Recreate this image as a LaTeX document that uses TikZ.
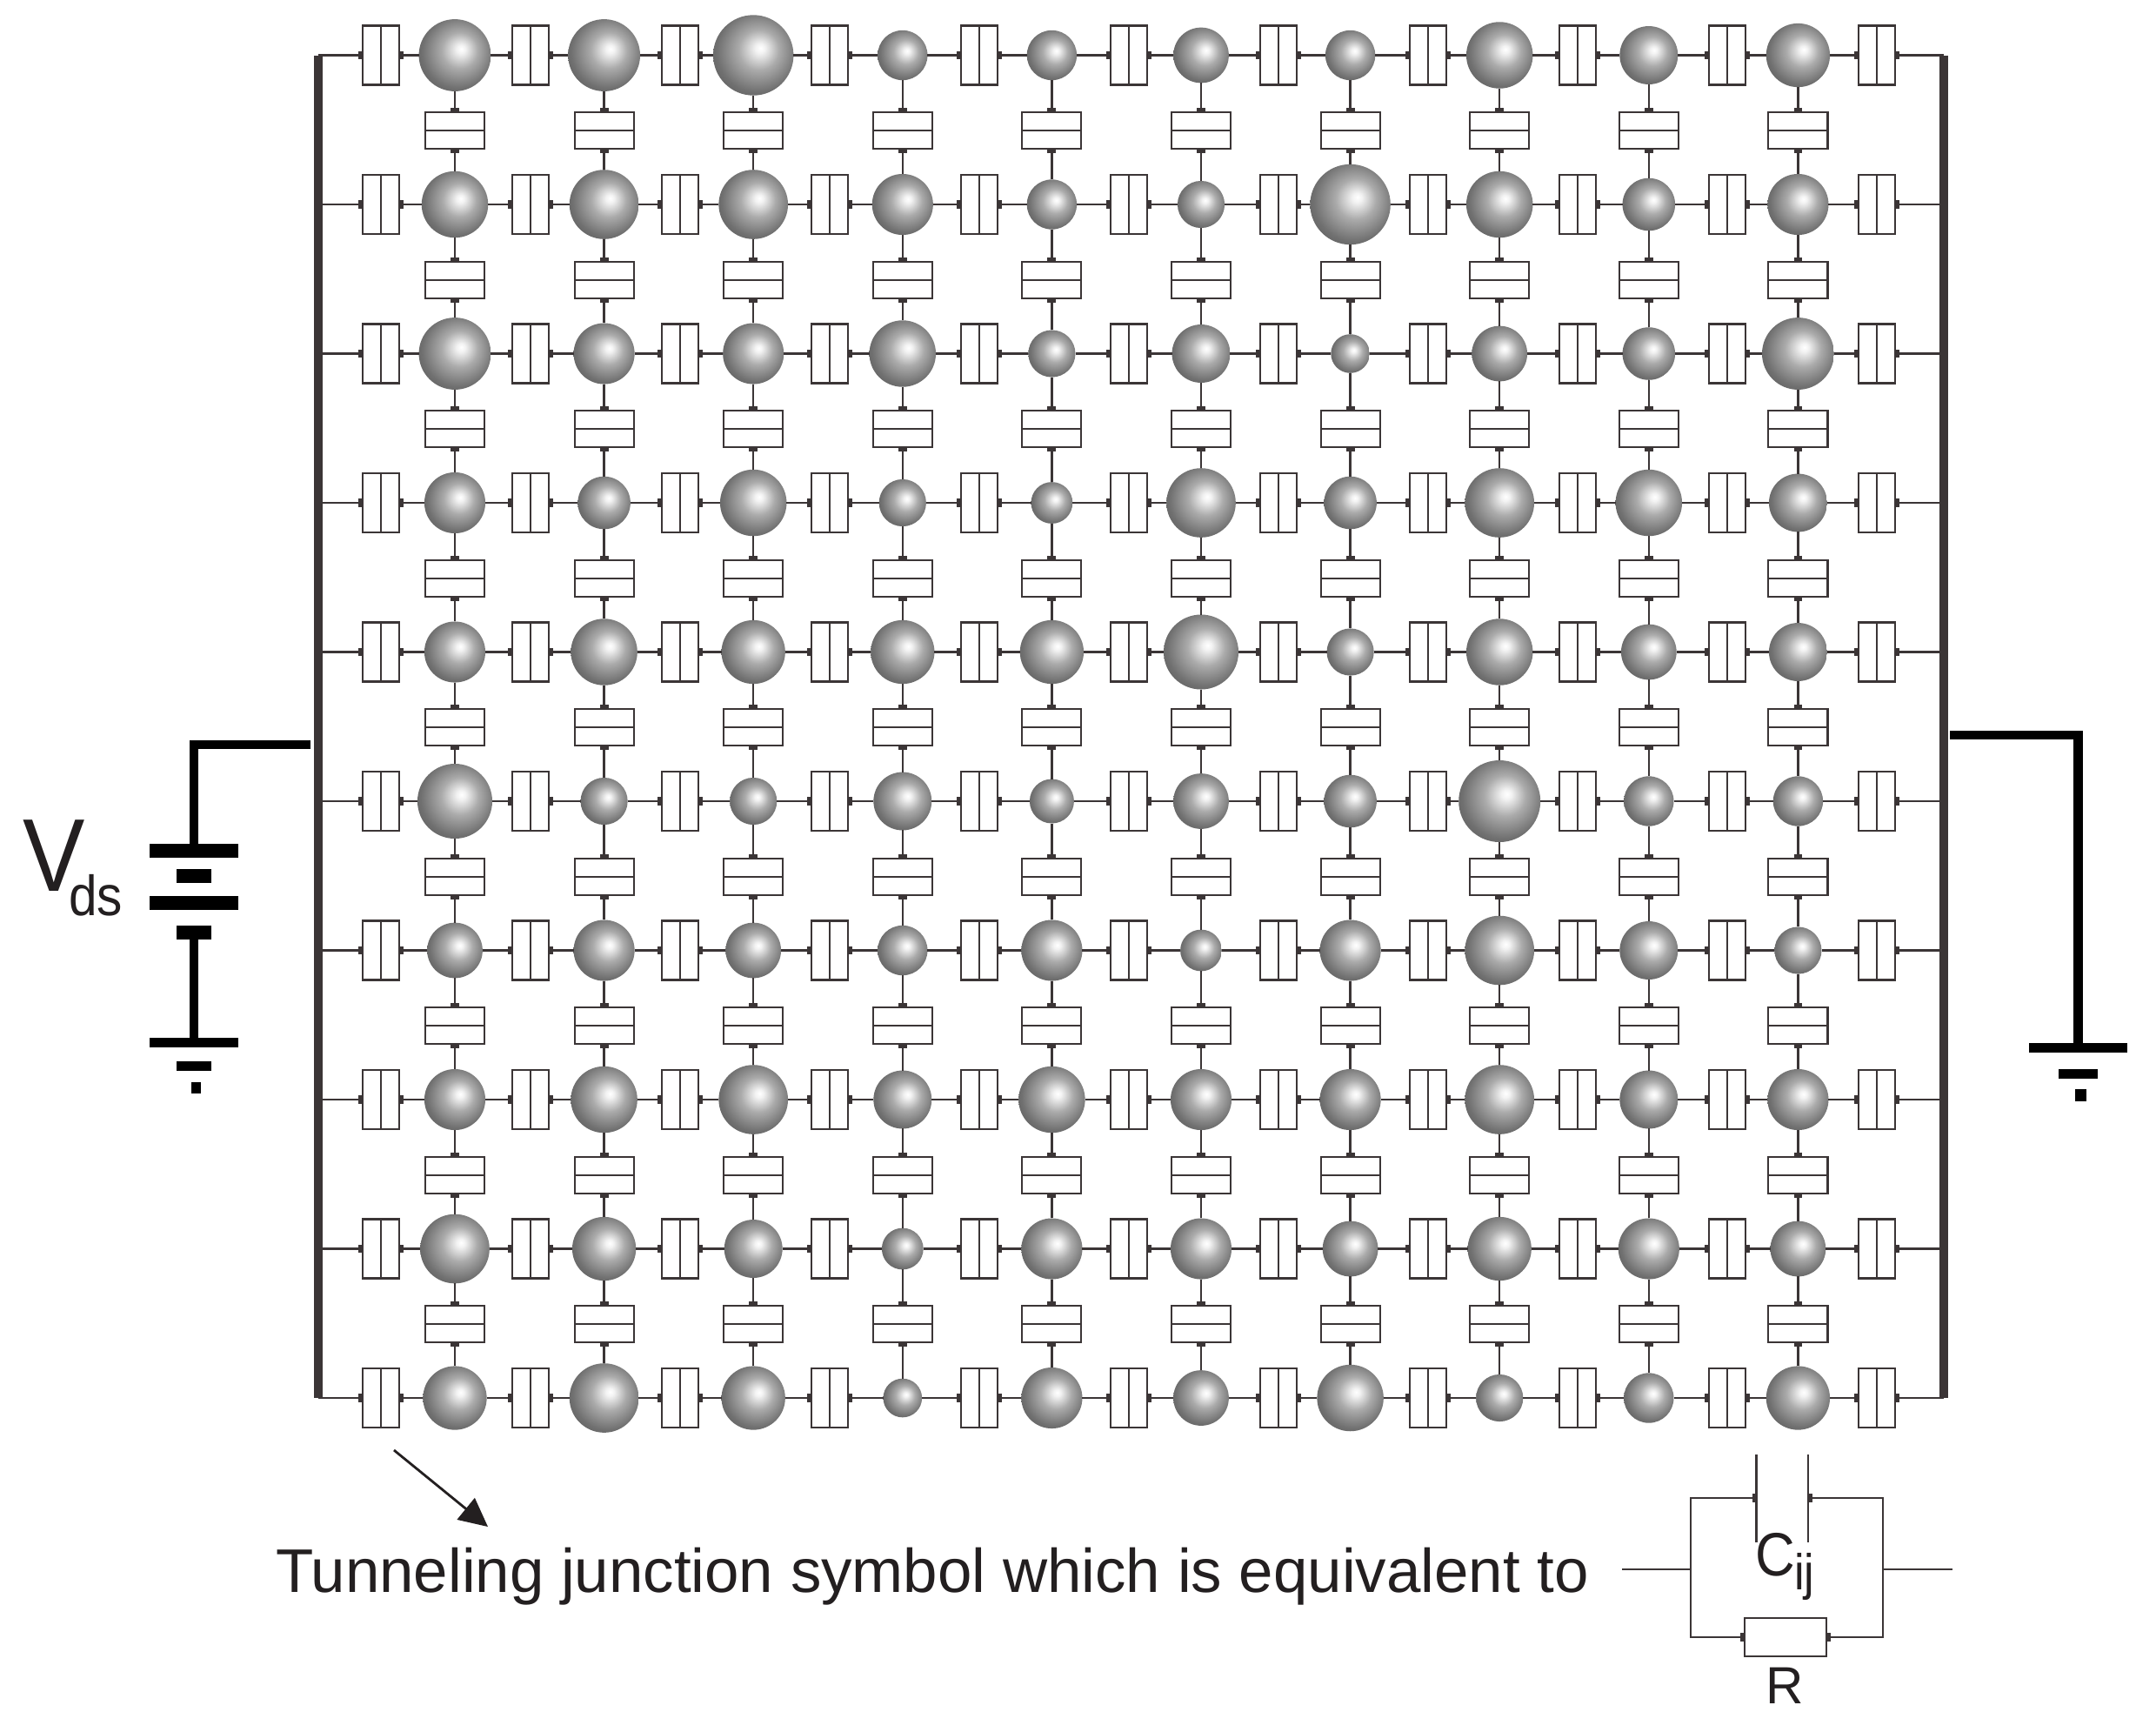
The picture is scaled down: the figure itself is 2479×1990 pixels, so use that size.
\documentclass[tikz,border=0pt]{standalone}
\usepackage{fontspec}
\setmainfont{Liberation Sans}
\newfontfamily\narrowfont[FakeStretch=0.9]{Liberation Sans}
\usetikzlibrary{arrows.meta}
\definecolor{ink}{HTML}{231F20}
\definecolor{wirecol}{HTML}{3B3536}
\pgfdeclareradialshading{ballshade}{\pgfpoint{4.5bp}{4.5bp}}{
  color(0bp)=(white);
  color(3bp)=(white!95!black);
  color(12.5bp)=(black!33);
  color(25bp)=(black!56);
  color(32bp)=(black!63);
  color(50bp)=(black!63)
}
\tikzset{
  wire/.style={draw=wirecol, line width=0.7pt},
  tipend/.style={-{Rectangle[length=1.4pt,width=2.8pt]}},
  tipstart/.style={{Rectangle[length=1.4pt,width=2.8pt]}-},
  bus/.style={draw=wirecol, line width=2.85pt},
  lead/.style={draw=black, line width=3pt},
  jbox/.style={draw=wirecol, line width=0.6pt, fill=white, inner sep=0pt, outer sep=0pt, rectangle},
  ball/.style={circle, inner sep=0pt, outer sep=0pt, shading=ballshade},
  plate/.style={fill=black, inner sep=0pt, outer sep=0pt, rectangle},
  txt/.style={text=ink, inner sep=0pt, anchor=base west}
}
\begin{document}
\begin{tikzpicture}[x=0.01cm, y=-0.01cm]
    \useasboundingbox (0,0) rectangle (2479,1990);

    % spheres, one list of sizes per row
    \foreach \sizes [count=\i] in {
      {26,26,29,18,18,20,18,24,21,23},
      {24,25,25,22,18,17,29,24,19,22},
      {26,22,22,24,17,21,14,20,19,26},
      {22,19,24,17,15,25,19,25,24,21},
      {22,24,23,23,23,27,17,24,20,21},
      {27,17,17,21,16,20,19,29.5,18,18},
      {20,22,20,18,22,15,22,25,21,17},
      {22,24,25,21,24,22,22,25,21,22},
      {25,23,21,15,22,22,20,23,22,20},
      {23,25,23,14,22,20,24,17,18,23}} {
      \foreach \d [count=\j] in \sizes {
        \node[ball, minimum size={\d*0.03184cm}] (s\i-\j) at ({523+171.6*(\j-1)},{63.5+171.5*(\i-1)}) {};
      }
    }

    % junctions along the rows
    \foreach \i in {1,...,10} {
      \coordinate (l\i) at (366,{63.5+171.5*(\i-1)});
      \coordinate (e\i) at (2235,{63.5+171.5*(\i-1)});
      \foreach \j in {1,...,11} {
        \node[jbox, minimum width=0.42cm, minimum height=0.68cm] (h\i-\j) at ({438+172*(\j-1)},{63.5+171.5*(\i-1)}) {};
        \draw[wire] (h\i-\j.north) -- (h\i-\j.south);
      }
      \draw[wire, tipend] (l\i) -- (h\i-1.west);
      \draw[wire, tipstart] (h\i-11.east) -- (e\i);
      \foreach \j in {1,...,10} {
        \pgfmathtruncatemacro{\n}{\j+1}
        \draw[wire, tipstart] (h\i-\j.east) -- (s\i-\j.west);
        \draw[wire, tipend] (s\i-\j.east) -- (h\i-\n.west);
      }
    }

    % junctions between the rows
    \foreach \i in {1,...,9} {
      \pgfmathtruncatemacro{\n}{\i+1}
      \foreach \j in {1,...,10} {
        \node[jbox, minimum width=0.68cm, minimum height=0.42cm] (t\i-\j) at ({523+171.6*(\j-1)},{round(150+171.5*(\i-1))}) {};
        \draw[wire] (t\i-\j.west) -- (t\i-\j.east);
        \draw[wire, tipend] (s\i-\j.south) -- (t\i-\j.north);
        \draw[wire, tipstart] (t\i-\j.south) -- (s\n-\j.north);
      }
    }

    \draw[bus] (l1) -- (l10);
    \draw[bus] (e1) -- (e10);

    % source on the left
    \node[plate, minimum width=1.02cm, minimum height=0.155cm] (batA) at (223,978) {};
    \node[plate, minimum width=0.40cm, minimum height=0.155cm] (batB) at (223,1007) {};
    \node[plate, minimum width=1.02cm, minimum height=0.155cm] (batC) at (223,1038) {};
    \node[plate, minimum width=0.40cm, minimum height=0.155cm] (batD) at (223,1072) {};
    \node[plate, minimum width=1.02cm, minimum height=0.11cm] (gndA) at (223,1198.5) {};
    \node[plate, minimum width=0.40cm, minimum height=0.11cm] (gndB) at (223,1225.5) {};
    \node[plate, minimum width=0.11cm, minimum height=0.13cm] (gndC) at (225.5,1250) {};
    \coordinate (vin) at (357,856);
    \draw[lead] (vin) -| (batA.north);
    \draw[lead] (batD.south) -- (gndA.north);
    \node[txt] (vds) at (26,1024) {\narrowfont\fontsize{33.8pt}{34pt}\selectfont V\kern-5.4pt\raisebox{-8pt}{\fontsize{18.5pt}{19pt}\selectfont ds}};

    % ground on the right
    \node[plate, minimum width=1.136cm, minimum height=0.104cm] (gndD) at (2389.5,1204.5) {};
    \node[plate, minimum width=0.447cm, minimum height=0.104cm] (gndE) at (2389.5,1234.5) {};
    \node[plate, minimum width=0.13cm, minimum height=0.14cm] (gndF) at (2392,1259) {};
    \coordinate (vout) at (2242,845);
    \draw[lead] (vout) -| (gndD.north);

    % note at the bottom
    \coordinate (from) at (453,1667);
    \coordinate (into) at (561,1755);
    \draw[draw=ink, line width=0.8pt, -{Triangle[length=9.3pt,width=9pt]}] (from) -- (into);
    \node[txt, anchor=base] (note) at (1072,1830) {\fontsize{20.15pt}{24pt}\selectfont Tunneling junction symbol which is equivalent to};

    % equivalent circuit
    \coordinate (inl) at (1865,1804);
    \coordinate (inr) at (2245,1804);
    \coordinate (jl) at (1944,1804);
    \coordinate (jr) at (2165,1804);
    \coordinate (capla) at (2019.5,1672);
    \coordinate (caplb) at (2019.5,1773);
    \coordinate (capra) at (2079,1672);
    \coordinate (caprb) at (2079,1773);
    \coordinate (capl) at (2019.5,1722);
    \coordinate (capr) at (2079,1722);
    \node[jbox, minimum width=0.944cm, minimum height=0.447cm] (res) at (2053,1882) {};
    \draw[wire] (capla) -- (caplb);
    \draw[wire] (capra) -- (caprb);
    \draw[wire] (inl) -- (jl);
    \draw[wire] (jr) -- (inr);
    \draw[wire, tipend] (jl) |- (capl);
    \draw[wire, tipend] (jr) |- (capr);
    \draw[wire, tipend] (jl) |- (res.west);
    \draw[wire, tipend] (jr) |- (res.east);
    \node[txt] (cij) at (2018,1811) {\narrowfont\fontsize{20pt}{20pt}\selectfont C\kern-0.4pt\raisebox{-4.8pt}{\fontsize{16.5pt}{17pt}\selectfont ij}};
    \node[txt, anchor=base] (rlabel) at (2052,1958) {\fontsize{17.1pt}{18pt}\selectfont R};
\end{tikzpicture}
\end{document}
